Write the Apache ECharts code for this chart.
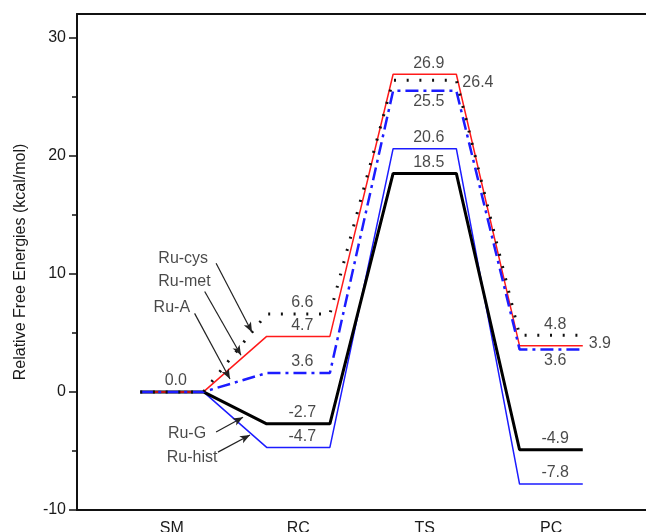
<!DOCTYPE html>
<html lang="en">
<head>
  <meta charset="UTF-8">
  <title>Relative Free Energies</title>
  <style>
    html, body { margin: 0; padding: 0; background: #fff; }
    #chart { width: 646px; height: 532px; }
  </style>
</head>
<body>
  <div id="chart"></div>

  <script src="https://cdn.jsdelivr.net/npm/echarts@6/dist/echarts.min.js"></script>
  <script>
    // stages along the reaction path
    const stages = ['SM', 'RC', 'TS', 'PC'];

    // energy levels as drawn (kcal/mol)
    const ruCys  = [0, 6.6, 26.4, 4.8];
    const ruMet  = [0, 4.7, 26.9, 3.9];
    const ruA    = [0, 1.6, 25.5, 3.6];
    const ruG    = [0, -2.7, 18.5, -4.9];
    const ruHist = [0, -4.7, 20.6, -7.8];

    // printed values next to the levels
    const ruCysText  = ['', '6.6', '26.4', '4.8'];
    const ruMetText  = ['', '4.7', '26.9', '3.9'];
    const ruAText    = ['', '3.6', '25.5', '3.6'];
    const ruGText    = ['0.0', '-2.7', '18.5', '-4.9'];
    const ruHistText = ['', '-4.7', '20.6', '-7.8'];

    const yTicks = [-10, 0, 10, 20, 30];
    const yMinorTicks = [-5, 5, 15, 25];

    const FONT = "'Liberation Sans', Arial, sans-serif";
    const HALF = 0.25; // half width of a level segment

    const defs = [
      { name: 'Ru-hist', values: ruHist, texts: ruHistText, pos: ['', 'top', 'top', 'top'],
        style: { color: '#1c1cff', width: 1.5, type: 'solid' } },
      { name: 'Ru-G', values: ruG, texts: ruGText, pos: ['top', 'top', 'top', 'top'],
        style: { color: '#000', width: 3, type: 'solid' } },
      { name: 'Ru-met', values: ruMet, texts: ruMetText, pos: ['', 'top', 'top', 'right'],
        style: { color: '#ff1a1a', width: 1.5, type: 'solid' } },
      { name: 'Ru-A', values: ruA, texts: ruAText, pos: ['', 'top', 'bottom', 'bottom'],
        style: { color: '#1c1cff', width: 2.5, type: [13, 5, 3, 5] } },
      { name: 'Ru-cys', values: ruCys, texts: ruCysText, pos: ['', 'top', 'right', 'top'],
        style: { color: '#111', width: 3, type: [2, 10.7], cap: 'butt' } }
    ];

    // polyline of an energy profile: a flat segment per stage
    function profile(values) {
      const pts = [];
      values.forEach((v, i) => {
        pts.push([i + 1 - HALF, v]);
        pts.push([i + 1 + HALF, v]);
      });
      return pts;
    }

    const lineSeries = defs.map(d => ({
      name: d.name,
      type: 'line',
      data: profile(d.values),
      symbol: 'none',
      silent: true,
      animation: false,
      lineStyle: d.style,
      z: 2
    }));

    // value labels
    const labelData = [];
    defs.forEach(d => {
      d.values.forEach((v, i) => {
        const p = d.pos[i];
        if (!p || !d.texts[i]) return;
        const x = p === 'right' ? i + 1 + HALF : i + 1;
        labelData.push({
          name: d.texts[i],
          value: [x, v],
          label: {
            position: p,
            distance: p === 'right' ? 6 : 3,
            offset: p === 'right' ? [0, d.name === 'Ru-cys' ? 2 : -2] : [4, 0]
          }
        });
      });
    });

    // annotation texts and arrows
    const annotNames = ['Ru-cys', 'Ru-met', 'Ru-A', 'Ru-G', 'Ru-hist'];
    const annotAt = [[1.09, 11.3], [1.1, 9.3], [1.0, 7.15], [1.12, -3.5], [1.16, -5.55]];
    const arrowFrom = [[1.35, 10.9], [1.26, 8.5], [1.18, 6.65], [1.35, -3.4], [1.365, -5.1]];
    const arrowTo = [[1.634, 5.05], [1.547, 3.1], [1.46, 1.1], [1.563, -2.15], [1.618, -3.65]];

    const chart = echarts.init(document.getElementById('chart'));
    chart.setOption({
      backgroundColor: '#fff',
      animation: false,
      textStyle: { fontFamily: FONT },
      grid: { left: 77, right: 0, top: 14, bottom: 22, containLabel: false, outerBoundsMode: 'none' },
      xAxis: [
        {
          type: 'value', min: 0.25, max: 4.75,
          axisLine: { show: true, onZero: false, lineStyle: { color: '#111', width: 2 } },
          axisTick: { show: false },
          splitLine: { show: false },
          axisLabel: {
            customValues: [1, 2, 3, 4],
            formatter: v => stages[Math.round(v) - 1],
            margin: 11, fontSize: 16, color: '#1a1a1a', fontFamily: FONT
          }
        },
        {
          type: 'value', min: 0.25, max: 4.75, position: 'top',
          axisLine: { show: true, onZero: false, lineStyle: { color: '#111', width: 2 } },
          axisTick: { show: false }, axisLabel: { show: false }, splitLine: { show: false }
        }
      ],
      yAxis: [
        {
          type: 'value', min: -10, max: 32,
          name: 'Relative Free Energies (kcal/mol)',
          nameLocation: 'middle', nameGap: 48,
          nameTextStyle: { fontSize: 16, color: '#1a1a1a', fontFamily: FONT },
          axisLine: { show: true, onZero: false, lineStyle: { color: '#111', width: 2 } },
          axisTick: { show: true, customValues: yTicks, length: 8, lineStyle: { color: '#111', width: 1.5 } },
          axisLabel: { customValues: yTicks, margin: 11, fontSize: 16, color: '#1a1a1a', fontFamily: FONT },
          splitLine: { show: false }
        },
        {
          type: 'value', min: -10, max: 32, position: 'left',
          axisLine: { show: false },
          axisTick: { show: true, customValues: yMinorTicks, length: 5, lineStyle: { color: '#111', width: 1.5 } },
          axisLabel: { show: false },
          splitLine: { show: false }
        }
      ],
      series: [
        ...lineSeries,
        {
          name: 'values',
          type: 'scatter',
          data: labelData,
          symbolSize: 0,
          silent: true,
          itemStyle: { color: 'transparent' },
          label: {
            show: true, formatter: '{b}',
            fontSize: 16, color: '#1a1a1a', fontFamily: FONT
          },
          z: 5
        },
        {
          name: 'annotations',
          type: 'scatter',
          data: annotNames.map((n, i) => ({ name: n, value: annotAt[i] })),
          symbolSize: 0,
          silent: true,
          itemStyle: { color: 'transparent' },
          label: {
            show: true, formatter: '{b}', position: 'inside',
            fontSize: 16, color: '#1a1a1a', fontFamily: FONT
          },
          markLine: {
            silent: true,
            symbol: ['none', 'arrow'],
            symbolSize: [6, 10],
            label: { show: false },
            lineStyle: { color: '#222', width: 1.2, type: 'solid' },
            data: arrowFrom.map((f, i) => [{ coord: f }, { coord: arrowTo[i] }])
          },
          z: 5
        }
      ]
    });
  </script>
</body>
</html>
